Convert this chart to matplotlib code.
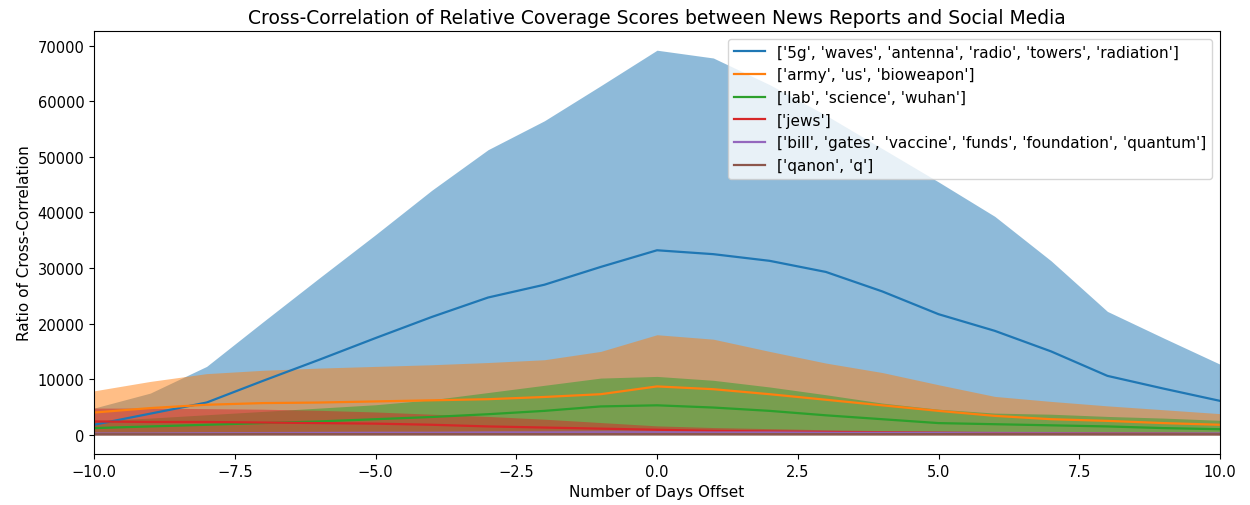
import matplotlib
matplotlib.use("Agg")
import matplotlib.pyplot as plt
import numpy as np

days = list(range(-10, 11))

labels = [
    "['5g', 'waves', 'antenna', 'radio', 'towers', 'radiation']",
    "['army', 'us', 'bioweapon']",
    "['lab', 'science', 'wuhan']",
    "['jews']",
    "['bill', 'gates', 'vaccine', 'funds', 'foundation', 'quantum']",
    "['qanon', 'q']",
]

# mean curves
mean_5g = [1800, 3800, 5800, 9700, 13500, 17400, 21200, 24700, 27000, 30200, 33200,
           32500, 31300, 29300, 25800, 21700, 18700, 15000, 10600, 8300, 6100]
mean_army = [4000, 4800, 5400, 5700, 5800, 6000, 6200, 6400, 6800, 7300, 8700,
             8200, 7300, 6300, 5300, 4300, 3400, 2800, 2500, 2100, 1800]
mean_lab = [1200, 1500, 1800, 2100, 2400, 2800, 3200, 3700, 4300, 5100, 5300,
            4900, 4300, 3500, 2800, 2100, 1900, 1700, 1500, 1200, 1000]
mean_jews = [2400, 2300, 2300, 2200, 2100, 2000, 1800, 1500, 1300, 1100, 900,
             700, 600, 500, 400, 350, 300, 250, 200, 200, 150]
mean_bill = [200, 200, 250, 250, 300, 300, 300, 350, 350, 400, 400,
             400, 400, 350, 300, 300, 250, 250, 200, 200, 200]
mean_qanon = [100, 100, 100, 120, 120, 120, 130, 130, 130, 140, 140,
              140, 130, 130, 120, 120, 110, 110, 100, 100, 100]

# upper band edges
upper_5g = [4800, 7500, 12300, 20300, 28200, 36000, 44000, 51300, 56500, 62800, 69200,
            67800, 63000, 57500, 51500, 45500, 39300, 31300, 22200, 17400, 12700]
upper_army = [7900, 9600, 11000, 11600, 12000, 12300, 12600, 13000, 13500, 15000, 18000,
              17200, 15000, 12900, 11200, 9000, 6900, 6000, 5200, 4500, 3800]
upper_lab = [2500, 3000, 3600, 4200, 4800, 5400, 6300, 7600, 8900, 10200, 10500,
             9800, 8600, 7200, 5700, 4600, 3900, 3700, 3300, 3000, 2600]
upper_jews = [4800, 4800, 4700, 4600, 4400, 4100, 3700, 3300, 2800, 2200, 1600,
              1300, 1100, 900, 750, 650, 550, 500, 450, 400, 350]
upper_bill = [500, 500, 550, 600, 650, 700, 700, 750, 800, 850, 900,
              900, 850, 800, 750, 700, 650, 600, 550, 500, 500]
upper_qanon = [300, 300, 300, 320, 320, 330, 330, 340, 340, 350, 350,
               350, 340, 330, 320, 310, 300, 290, 280, 270, 260]

# lower band edges
lower_5g = [0] * 21
lower_army = [0] * 21
lower_lab = [0] * 21
lower_jews = [0] * 21
lower_bill = [0] * 21
lower_qanon = [0] * 21

means = [mean_5g, mean_army, mean_lab, mean_jews, mean_bill, mean_qanon]
uppers = [upper_5g, upper_army, upper_lab, upper_jews, upper_bill, upper_qanon]
lowers = [lower_5g, lower_army, lower_lab, lower_jews, lower_bill, lower_qanon]
colors = ["#1f77b4", "#ff7f0e", "#2ca02c", "#d62728", "#9467bd", "#8c564b"]

fig = plt.figure(figsize=(12.5, 5.06), dpi=100)
ax = fig.add_axes([0.0752, 0.1008, 0.9008, 0.836])

for lab, m, lo, hi, c in zip(labels, means, lowers, uppers, colors):
    ax.plot(days, m, color=c, label=lab, linewidth=1.6)
    ax.fill_between(days, lo, hi, color=c, alpha=0.5, linewidth=0)

ax.set_xlim(-10, 10)
ax.tick_params(labelsize=10.5)
ax.set_title("Cross-Correlation of Relative Coverage Scores between News Reports and Social Media",
             fontsize=13.5)
ax.set_xlabel("Number of Days Offset", fontsize=11)
ax.set_ylabel("Ratio of Cross-Correlation", fontsize=11)
ax.legend(loc="upper right", fontsize=11)

fig.savefig("out.png", dpi=100)
